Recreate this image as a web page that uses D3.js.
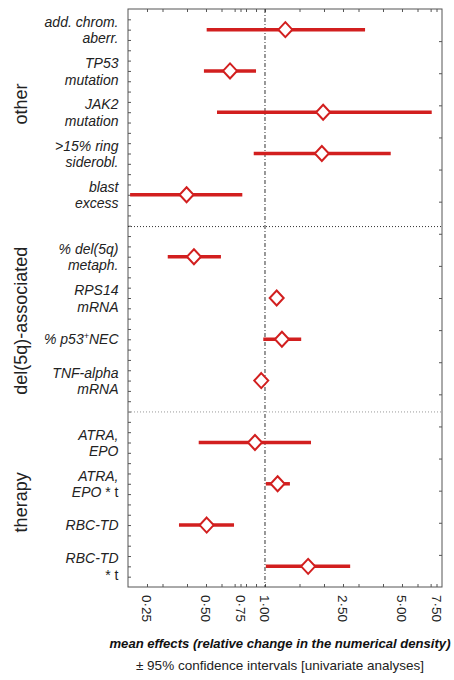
<!DOCTYPE html>
<html>
<head>
<meta charset="utf-8">
<script src="https://cdn.jsdelivr.net/npm/d3@7"></script>
<style>
    body { margin: 0; background: #fff; }
    text { font-family: "Liberation Sans", Arial, sans-serif; }
</style>
</head>
<body>
<div id="chart"></div>
<script>
// one entry per row, top to bottom
const labels = [
    ["add. chrom.", "aberr."],
    ["TP53", "mutation"],
    ["JAK2", "mutation"],
    [">15% ring", "siderobl."],
    ["blast", "excess"],
    ["% del(5q)", "metaph."],
    ["RPS14", "mRNA"],
    ["% p53+NEC"],
    ["TNF-alpha", "mRNA"],
    ["ATRA,", "EPO"],
    ["ATRA,", "EPO * t"],
    ["RBC-TD"],
    ["RBC-TD", "* t"]
];
const rowPos = [0, 1, 2, 3, 4, 5.5, 6.5, 7.5, 8.5, 10, 11, 12, 13];
const means = [1.27, 0.663, 1.98, 1.95, 0.398, 0.434, 1.147, 1.22, 0.957, 0.889, 1.16, 0.504, 1.66];
const lower = [0.504, 0.488, 0.569, 0.876, 0.205, 0.319, 1.12, 0.98, 0.94, 0.459, 1.01, 0.364, 1.01];
const upper = [3.24, 0.90, 7.09, 4.38, 0.766, 0.596, 1.18, 1.53, 0.975, 1.717, 1.34, 0.695, 2.72];

const groups = ["other", "del(5q)-associated", "therapy"];
const groupAt = [1.8, 7.05, 11.45];
const separators = [4.77, 9.26];

const xTicks = [0.25, 0.5, 0.75, 1, 2.5, 5, 7.5];
const xMinor = [0.3, 0.4, 0.6, 0.7, 0.8, 0.9, 1.5, 2, 3, 4, 6, 7];

const width = 454, height = 680;
const margin = { top: 9, right: 12, bottom: 93, left: 128 };
const red = "#d21f1f";

const svg = d3.select("#chart").append("svg")
    .attr("width", width)
    .attr("height", height);

const x = d3.scaleLog()
    .domain([0.2, 8])
    .range([margin.left, width - margin.right]);

const y = d3.scaleLinear()
    .domain([-0.5, 13.5])
    .range([margin.top, height - margin.bottom]);

const plotTop = margin.top, plotBottom = height - margin.bottom;
const plotLeft = margin.left, plotRight = width - margin.right;

// inward ticks on all four sides
const allX = xTicks.concat(xMinor);
svg.append("g")
    .attr("transform", `translate(0,${plotBottom})`)
    .call(d3.axisTop(x).tickValues(allX).tickSize(3).tickFormat(""))
    .call(g => g.select(".domain").remove())
    .selectAll("line").attr("stroke", "#555");
svg.append("g")
    .attr("transform", `translate(0,${plotTop})`)
    .call(d3.axisBottom(x).tickValues(allX).tickSize(3).tickFormat(""))
    .call(g => g.select(".domain").remove())
    .selectAll("line").attr("stroke", "#555");

svg.append("g")
    .attr("transform", `translate(${plotLeft},0)`)
    .call(d3.axisRight(y).tickValues(d3.range(-0.25, 13.5, 0.25)).tickSize(3).tickFormat(""))
    .call(g => g.select(".domain").remove())
    .selectAll("line").attr("stroke", "#555");
svg.append("g")
    .attr("transform", `translate(${plotRight},0)`)
    .call(d3.axisLeft(y).tickValues(d3.range(1, 18).map(k => -0.5 + k * 14 / 18)).tickSize(3).tickFormat(""))
    .call(g => g.select(".domain").remove())
    .selectAll("line").attr("stroke", "#555");

// tick labels, turned clockwise
svg.append("g")
    .selectAll("text")
    .data(xTicks)
    .join("text")
    .attr("transform", d => `translate(${x(d)},${plotBottom + 8}) rotate(90)`)
    .attr("dy", "0.35em")
    .attr("font-size", 13.5)
    .attr("fill", "#222")
    .text(d => d3.format(".2f")(d).replace(".", "\u00b7"));

// frame
svg.append("rect")
    .attr("x", plotLeft)
    .attr("y", plotTop)
    .attr("width", plotRight - plotLeft)
    .attr("height", plotBottom - plotTop)
    .attr("fill", "none")
    .attr("stroke", "#555")
    .attr("stroke-width", 1);

// reference line at 1
svg.append("line")
    .attr("x1", x(1)).attr("x2", x(1))
    .attr("y1", plotTop).attr("y2", plotBottom)
    .attr("stroke", "#333")
    .attr("stroke-dasharray", "4,2,1,2");

svg.selectAll(".sep")
    .data(separators)
    .join("line")
    .attr("class", "sep")
    .attr("x1", plotLeft).attr("x2", plotRight)
    .attr("y1", d => y(d)).attr("y2", d => y(d))
    .attr("stroke", (d, i) => i === 0 ? "#333" : "#999")
    .attr("stroke-dasharray", "1,2");

// confidence intervals
svg.append("g")
    .selectAll("line")
    .data(rowPos)
    .join("line")
    .attr("x1", (d, i) => x(lower[i]))
    .attr("x2", (d, i) => x(upper[i]))
    .attr("y1", d => y(d))
    .attr("y2", d => y(d))
    .attr("stroke", red)
    .attr("stroke-width", 3.5);

// mean markers
svg.append("g")
    .selectAll("path")
    .data(rowPos)
    .join("path")
    .attr("d", (d, i) => {
        const cx = x(means[i]), cy = y(d);
        return `M${cx},${cy - 7.5}L${cx + 7},${cy}L${cx},${cy + 7.5}L${cx - 7},${cy}Z`;
    })
    .attr("fill", "#fff")
    .attr("stroke", red)
    .attr("stroke-width", 2);

// row labels
const labelX = 118.5;
const rowLabels = svg.append("g")
    .selectAll("text")
    .data(labels)
    .join("text")
    .attr("x", labelX)
    .attr("y", (d, i) => y(rowPos[i]) + (d.length === 1 ? 5 : -3))
    .attr("text-anchor", "end")
    .attr("font-size", 14)
    .attr("font-style", "italic")
    .attr("fill", "#222");

rowLabels.each(function(d) {
    const t = d3.select(this);
    d.forEach((line, j) => {
        const dy = j === 0 ? 0 : 16.7;
        if (line === "% p53+NEC") {
            t.append("tspan").text("% p53");
            t.append("tspan").attr("dy", -5).attr("font-size", 9).text("+");
            t.append("tspan").attr("dy", 5).text("NEC");
        } else if (line.endsWith("* t")) {
            const head = line.slice(0, -3);
            if (head) {
                t.append("tspan").attr("x", labelX).attr("dy", dy).text(head);
                t.append("tspan").attr("font-style", "normal").text("* t");
            } else {
                t.append("tspan").attr("x", labelX).attr("dy", dy)
                    .attr("font-style", "normal").text("* t");
            }
        } else {
            t.append("tspan").attr("x", labelX).attr("dy", dy).text(line);
        }
    });
});

// group labels
svg.append("g")
    .selectAll("text")
    .data(groups)
    .join("text")
    .attr("transform", (d, i) => `translate(27,${y(groupAt[i])}) rotate(-90)`)
    .attr("text-anchor", "middle")
    .attr("font-size", 18)
    .attr("fill", "#222")
    .text(d => d);

// axis titles
svg.append("text")
    .attr("x", 280)
    .attr("y", 648)
    .attr("text-anchor", "middle")
    .attr("font-size", 13.1)
    .attr("font-weight", "bold")
    .attr("font-style", "italic")
    .attr("fill", "#111")
    .text("mean effects (relative change in the numerical density)");

svg.append("text")
    .attr("x", 280)
    .attr("y", 670)
    .attr("text-anchor", "middle")
    .attr("font-size", 13.5)
    .attr("fill", "#222")
    .text("\u00b1 95% confidence intervals [univariate analyses]");
</script>
</body>
</html>
